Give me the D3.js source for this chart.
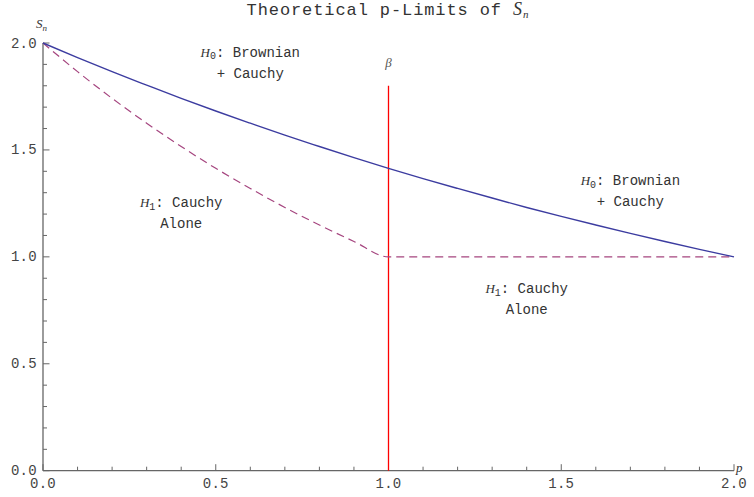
<!DOCTYPE html>
<html>
<head>
<meta charset="utf-8">
<script src="https://cdn.jsdelivr.net/npm/d3@7"></script>
<style>
  body { margin: 0; background: #fff; }
  svg { display: block; }
  .mono { font-family: "Liberation Mono", "Courier New", monospace; fill: #333; }
  .ital { font-family: "Liberation Serif", "Times New Roman", serif; font-style: italic; fill: #333; }
</style>
</head>
<body>
<div id="chart"></div>
<script>
/**
 * DATA
 * */
const pValues = [0, 0.1, 0.2, 0.3, 0.4, 0.5, 0.6, 0.7, 0.8, 0.9, 1.0,
                 1.1, 1.2, 1.3, 1.4, 1.5, 1.6, 1.7, 1.8, 1.9, 2.0];
// H0 boundary (solid)
const brownianCauchy = [2.0, 1.932, 1.866, 1.803, 1.741, 1.682, 1.625, 1.569, 1.516, 1.464, 1.414,
                        1.366, 1.320, 1.275, 1.231, 1.189, 1.149, 1.110, 1.072, 1.035, 1.0];
// H1 boundary (dashed)
const cauchyAlone = [2.0, 1.866, 1.741, 1.625, 1.516, 1.414, 1.320, 1.231, 1.149, 1.072, 1.0,
                     1.0, 1.0, 1.0, 1.0, 1.0, 1.0, 1.0, 1.0, 1.0, 1.0];
const betaP = 1.0;
const betaTop = 1.8;
const xTicks = [0, 0.5, 1.0, 1.5, 2.0];
const yTicks = [0, 0.5, 1.0, 1.5, 2.0];
const minorTicks = d3.range(0, 2.001, 0.1);
const regionLabels = [
  { sub: "0", line1: ": Brownian", line2: "+ Cauchy", p: 0.6, s: 1.935 },
  { sub: "0", line1: ": Brownian", line2: "+ Cauchy", p: 1.70, s: 1.335 },
  { sub: "1", line1: ": Cauchy", line2: "Alone", p: 0.40, s: 1.231 },
  { sub: "1", line1: ": Cauchy", line2: "Alone", p: 1.40, s: 0.830 }
];

/**
 * CONSTANTS
 * */
const width = 754, height = 497;

const svg = d3.select("#chart").append("svg")
  .attr("width", width)
  .attr("height", height);

const x = d3.scaleLinear().domain([0, 2]).range([43, 734]);
const y = d3.scaleLinear().domain([0, 2]).range([470.7, 43]);

const axisColor = "#666";

// title
const title = svg.append("text")
  .attr("class", "mono")
  .attr("x", 388).attr("y", 15)
  .attr("text-anchor", "middle")
  .style("font-size", "17px")
  .style("letter-spacing", "0.9px");
title.append("tspan").text("Theoretical p-Limits of ");
title.append("tspan").attr("class", "ital").style("font-size", "18px").text("S");
title.append("tspan").attr("class", "ital").attr("dy", 3).style("font-size", "11px").text("n");

// axes lines
svg.append("line")
  .attr("x1", x(0)).attr("x2", x(2))
  .attr("y1", y(0)).attr("y2", y(0))
  .attr("stroke", axisColor).attr("stroke-width", 1.3);
svg.append("line")
  .attr("x1", x(0)).attr("x2", x(0))
  .attr("y1", y(0)).attr("y2", y(2))
  .attr("stroke", axisColor).attr("stroke-width", 1.3);

const isMajor = v => Math.abs(v * 2 - Math.round(v * 2)) < 1e-6;

// x ticks (inward)
svg.append("g").selectAll("line")
  .data(minorTicks)
  .join("line")
  .attr("x1", d => x(d)).attr("x2", d => x(d))
  .attr("y1", y(0)).attr("y2", d => y(0) - (isMajor(d) ? 6.5 : 4))
  .attr("stroke", axisColor).attr("stroke-width", 1);

// y ticks (inward)
svg.append("g").selectAll("line")
  .data(minorTicks)
  .join("line")
  .attr("y1", d => y(d)).attr("y2", d => y(d))
  .attr("x1", x(0)).attr("x2", d => x(0) + (isMajor(d) ? 6.5 : 4))
  .attr("stroke", axisColor).attr("stroke-width", 1);

// tick labels
svg.append("g").selectAll("text")
  .data(xTicks)
  .join("text")
  .attr("class", "mono")
  .attr("x", d => x(d)).attr("y", 488)
  .attr("text-anchor", "middle")
  .style("font-size", "14px")
  .style("letter-spacing", "0.3px")
  .style("fill", "#444")
  .text(d => d.toFixed(1));

svg.append("g").selectAll("text")
  .data(yTicks)
  .join("text")
  .attr("class", "mono")
  .attr("x", 37).attr("y", d => y(d) + 4.5)
  .attr("text-anchor", "end")
  .style("font-size", "14px")
  .style("letter-spacing", "0.3px")
  .style("fill", "#444")
  .text(d => d.toFixed(1));

// axis labels
const sLab = svg.append("text").attr("class", "ital").attr("x", 36).attr("y", 28)
  .style("font-size", "13px");
sLab.append("tspan").text("S");
sLab.append("tspan").attr("dy", 2.5).style("font-size", "9px").text("n");

svg.append("text").attr("class", "ital")
  .attr("x", 736).attr("y", 472)
  .style("font-size", "13px")
  .text("p");

// beta line
svg.append("line")
  .attr("x1", x(betaP)).attr("x2", x(betaP))
  .attr("y1", y(0)).attr("y2", y(betaTop))
  .attr("stroke", "#ff0000").attr("stroke-width", 1.3);

svg.append("text").attr("class", "ital")
  .attr("x", x(betaP)).attr("y", 67)
  .attr("text-anchor", "middle")
  .style("font-size", "13px")
  .style("fill", "#555")
  .text("β");

// curves
const line = d3.line()
  .x((d, i) => x(pValues[i]))
  .y(d => y(d))
  .curve(d3.curveMonotoneX);

svg.append("path")
  .attr("d", line(cauchyAlone))
  .attr("fill", "none")
  .attr("stroke", "#a5457f")
  .attr("stroke-width", 1.2)
  .attr("stroke-dasharray", "8,5");

svg.append("path")
  .attr("d", line(brownianCauchy))
  .attr("fill", "none")
  .attr("stroke", "#3c3ca0")
  .attr("stroke-width", 1.4);

// region annotations
regionLabels.forEach(d => {
  const cx = x(d.p), by = y(d.s);
  const t1 = svg.append("text").attr("class", "mono")
    .attr("x", cx).attr("y", by)
    .attr("text-anchor", "middle")
    .style("font-size", "14px");
  t1.append("tspan").attr("class", "ital").style("font-size", "13px").text("H");
  t1.append("tspan").attr("dy", 2.5).style("font-size", "10px").text(d.sub);
  t1.append("tspan").attr("dy", -2.5).text(d.line1);

  svg.append("text").attr("class", "mono")
    .attr("x", cx).attr("y", by + 21)
    .attr("text-anchor", "middle")
    .style("font-size", "14px")
    .text(d.line2);
});
</script>
</body>
</html>
